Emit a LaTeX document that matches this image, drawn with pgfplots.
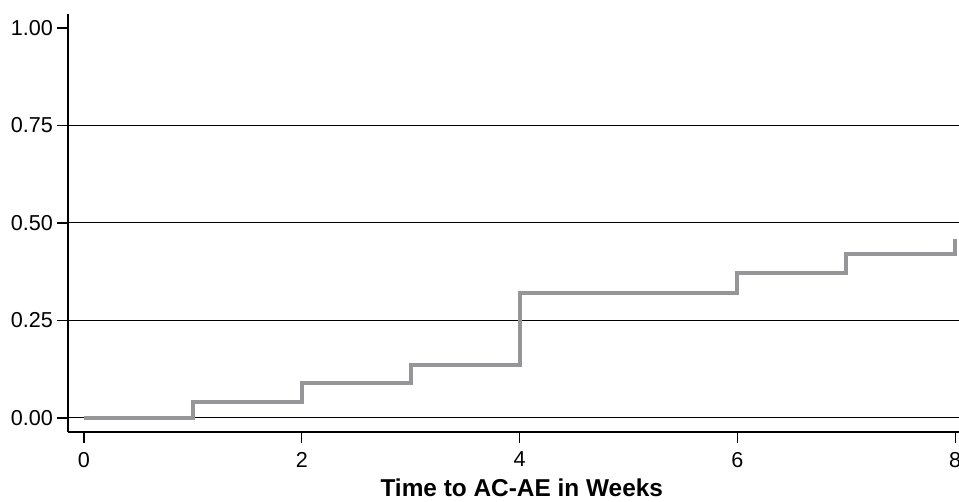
\documentclass[border=0pt]{standalone}
\usepackage{pgfplots}
\pgfplotsset{compat=1.18}
\usepackage{fontspec}
\setmainfont{Liberation Sans}
\definecolor{stepgray}{RGB}{150,150,152}
\begin{document}
\begin{tikzpicture}
\begin{axis}[
  scale only axis,
  width=445.75pt, height=209pt,
  xmin=-0.147, xmax=8.04,
  ymin=-0.036, ymax=1.036,
  axis lines=left,
  axis line style={-, black, line width=0.6pt},
  xtick={0,2,4,6,8},
  ytick={0,0.25,0.5,0.75},
  extra y ticks={1},
  extra y tick style={grid=none},
  ymajorgrids,
  grid style={black, line width=0.5pt},
  tick align=outside,
  major tick length=5.5pt,
  tick style={black, line width=0.6pt},
  clip=false,
  /pgf/number format/assume math mode=true,
  yticklabel style={/pgf/number format/fixed, /pgf/number format/fixed zerofill, /pgf/number format/precision=2},
  ticklabel style={font=\fontsize{10.8}{12}\selectfont},
  xticklabel style={yshift=-1pt},
  yticklabel style={xshift=1.5pt},
  xlabel={\textbf{Time to AC-AE in Weeks}},
  xlabel style={font=\fontsize{12.2}{14}\selectfont, xshift=4pt, yshift=1pt},
]
\addplot[const plot, stepgray, line width=2pt] coordinates {
  (0,0) (1,0.041) (2,0.09) (3,0.136) (4,0.32) (6,0.372) (7,0.42) (8,0.42) (8,0.46)
};
\end{axis}
\pgfresetboundingbox
\useasboundingbox (current axis.south west) ++(-34pt,-35pt) rectangle ++(479.5pt,251pt);
\end{tikzpicture}
\end{document}
